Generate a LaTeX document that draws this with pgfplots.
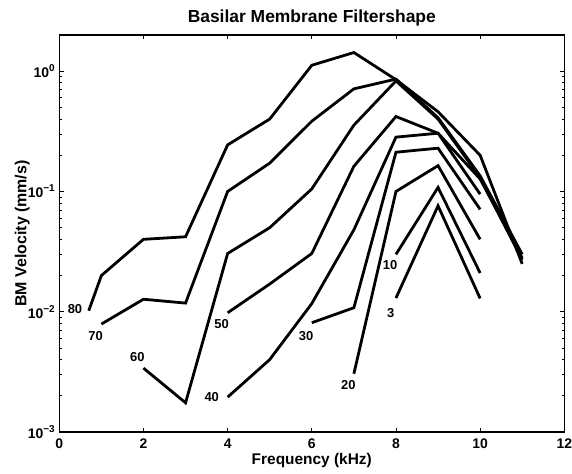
\documentclass[border=0pt]{standalone}
\usepackage{pgfplots}
\pgfplotsset{compat=1.18}
\usepackage{fontspec}
\setmainfont{Liberation Sans}
\newcommand{\tl}{\fontsize{14}{16}\selectfont\bfseries}
\newcommand{\cl}{\fontsize{13}{15}\selectfont\bfseries}
\newcommand{\ex}[1]{10\raisebox{0.42em}{\fontsize{10}{11}\selectfont #1}}
\begin{document}
\begin{tikzpicture}
\useasboundingbox (-59.3bp,-42bp) rectangle (512.7bp,432bp);
\begin{axis}[
  scale only axis, width=505bp, height=397bp,
  at={(0,0)}, anchor=south west,
  ymode=log, xmin=0, xmax=12, ymin=0.001, ymax=2,
  xtick={0,2,4,6,8,10,12},
  xticklabels={0,2,4,6,8,10,12},
  ytick={0.001,0.01,0.1,1},
  yticklabels={\ex{−3},\ex{−2},\ex{−1},\ex{0}},
  minor ytick={0.002,0.003,0.004,0.005,0.006,0.007,0.008,0.009,
               0.02,0.03,0.04,0.05,0.06,0.07,0.08,0.09,
               0.2,0.3,0.4,0.5,0.6,0.7,0.8,0.9,2},
  tick align=inside,
  major tick length=4.5bp, minor tick length=2.5bp,
  axis line style={line width=1.1pt},
  every tick/.style={black, line width=0.8pt},
  tick label style={font=\tl},
  xticklabel style={anchor=base, yshift=-16bp},
  yticklabel style={anchor=east, xshift=-1bp},
  clip=false,
]
\addplot[black, line width=2.8pt] coordinates {(0.7,0.0102) (1,0.0200) (2,0.040) (3,0.042) (4,0.244) (5,0.40) (6,1.12) (7,1.43) (8,0.85) (9,0.46) (10,0.20) (11,0.025)};
\addplot[black, line width=2.8pt] coordinates {(1,0.0079) (2,0.0127) (3,0.0118) (4,0.100) (5,0.172) (6,0.384) (7,0.713) (8,0.86) (9,0.41) (10,0.135) (11,0.030)};
\addplot[black, line width=2.8pt] coordinates {(2,0.0034) (3,0.00175) (4,0.0305) (5,0.050) (6,0.105) (7,0.356) (8,0.83) (9,0.40) (10,0.13) (11,0.027)};
\addplot[black, line width=2.8pt] coordinates {(4,0.0098) (5,0.017) (6,0.0305) (7,0.162) (8,0.42) (9,0.305) (10,0.127) (11,0.028)};
\addplot[black, line width=2.8pt] coordinates {(4,0.00195) (5,0.0040) (6,0.0117) (7,0.048) (8,0.283) (9,0.305) (10,0.095)};
\addplot[black, line width=2.8pt] coordinates {(6,0.0081) (7,0.0108) (8,0.212) (9,0.229) (10,0.071)};
\addplot[black, line width=2.8pt] coordinates {(7,0.00305) (8,0.100) (9,0.164) (10,0.040)};
\addplot[black, line width=2.8pt] coordinates {(8,0.030) (9,0.108) (10,0.021)};
\addplot[black, line width=2.8pt] coordinates {(8,0.0130) (9,0.076) (10,0.0129)};
\node[font=\cl] at (axis cs:0.373,0.01054) {80};
\node[font=\cl] at (axis cs:0.865,0.00632) {70};
\node[font=\cl] at (axis cs:1.854,0.00418) {60};
\node[font=\cl] at (axis cs:3.859,0.00787) {50};
\node[font=\cl] at (axis cs:3.622,0.00194) {40};
\node[font=\cl] at (axis cs:5.863,0.00632) {30};
\node[font=\cl] at (axis cs:6.868,0.00245) {20};
\node[font=\cl] at (axis cs:7.859,0.0243) {10};
\node[font=\cl] at (axis cs:7.876,0.0097) {3};
\node[anchor=base, font=\fontsize{17.5}{20}\selectfont\bfseries] at ([yshift=12bp]rel axis cs:0.5,1) {Basilar Membrane Filtershape};
\node[anchor=base, font=\fontsize{15.5}{18}\selectfont\bfseries] at ([yshift=-32bp]rel axis cs:0.5,0) {Frequency (kHz)};
\node[anchor=base, rotate=90, font=\fontsize{16}{18}\selectfont\bfseries] at ([xshift=-33bp]rel axis cs:0,0.5) {BM Velocity (mm/s)};
\end{axis}
\end{tikzpicture}
\end{document}
